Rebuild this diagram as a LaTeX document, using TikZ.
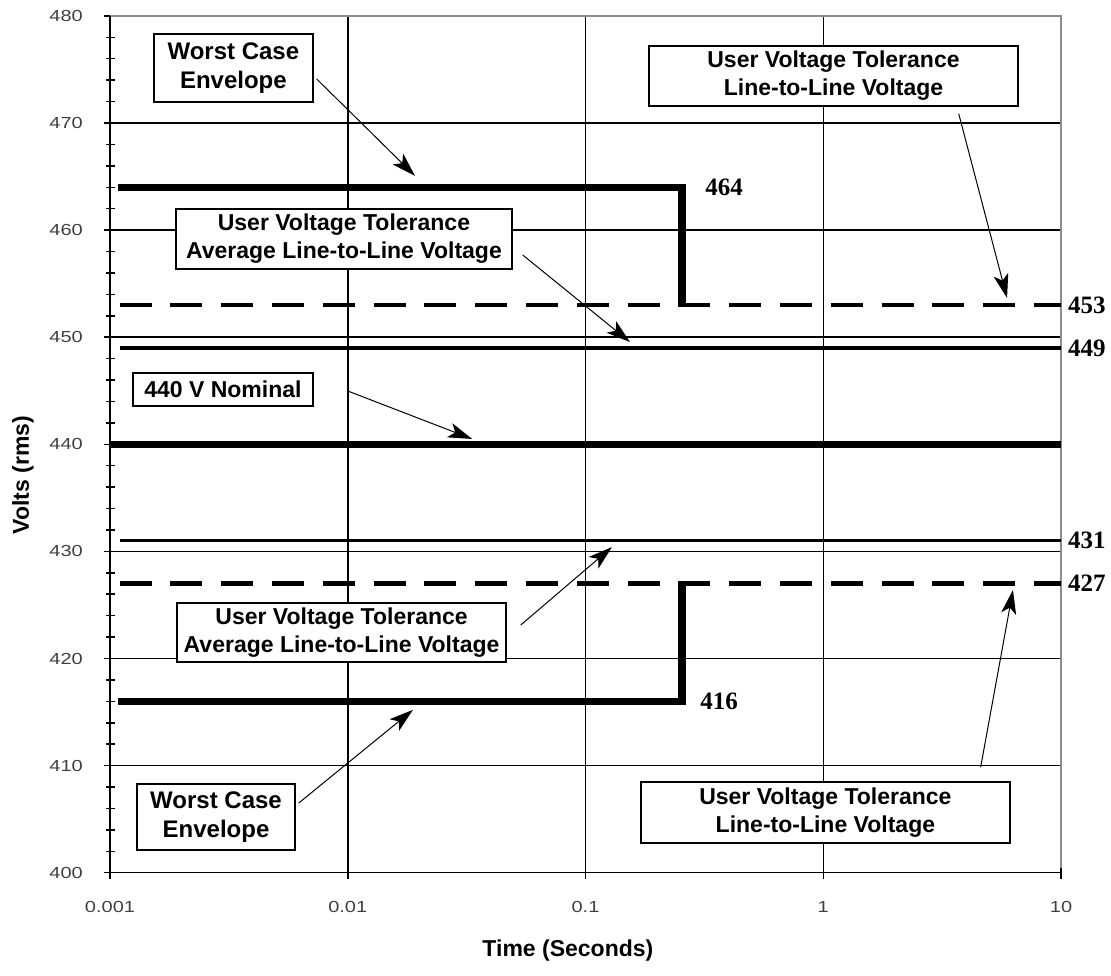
\documentclass[tikz,border=0pt]{standalone}
\usepackage{fontspec}
\usepackage{graphicx}
\setmainfont{Liberation Sans}
\newfontfamily\valfont{Liberation Serif}
\usetikzlibrary{arrows.meta}
\newcommand{\wide}[1]{\scalebox{1.25}[1]{#1}}
\tikzset{
	gl/.style={line width=1.5pt},
	fr/.style={line width=1.5pt,black!45},
	env/.style={line width=7.5pt},
	nom/.style={line width=7.5pt},
	tl/.style={line width=3.5pt},
	td/.style={line width=4.5pt,dash pattern=on 32pt off 18.8pt},
	bx/.style={draw,fill=white,line width=1.5pt,align=center,font=\fontsize{23}{28}\selectfont\bfseries},
	big/.style={font=\fontsize{24}{29}\selectfont\bfseries},
	ar/.style={line width=1pt,-{Stealth[length=24pt,width=15pt,inset=6pt]}},
	lab/.style={font=\fontsize{16}{18}\selectfont,text=black!75,inner sep=0pt},
	val/.style={font=\valfont\fontsize{25}{28}\selectfont\bfseries,inner sep=0pt,anchor=west},
	ttl/.style={font=\fontsize{23}{28}\selectfont\bfseries},
}

\begin{document}
\begin{tikzpicture}[x=237.75pt,y=10.71pt]
	\useasboundingbox (-0.46267,-9.5518) rectangle (4.2103,81.4846);

	\foreach \y in {10,20,...,70}
		\draw[gl] ([xshift=-6pt]0,\y) -- (4,\y);
	\foreach \x in {1,2,3}
		\draw[gl] ([yshift=-6pt]\x,0) -- (\x,80);
	\draw[fr] (0,80) -- (4,80) -- (4,0);
	\draw[gl] (0,80) -- (0,0) -- (4,0);
	\foreach \y in {0,80}
		\draw[gl] ([xshift=-6pt]0,\y) -- (0,\y);
	\foreach \x in {0,4}
		\draw[gl] ([yshift=-6pt]\x,0) -- (\x,0);
	\foreach \y in {2,4,...,78}
		\draw[gl] ([xshift=-4.5pt]0,\y) -- ([xshift=4.5pt]0,\y);
	\foreach \d in {0,...,3}
		\foreach \m [evaluate=\m as \xm using \d+log10(\m)] in {2,...,9}
			\draw[gl] ([yshift=-4.5pt]\xm,0) -- ([yshift=4.5pt]\xm,0);

	\foreach \y in {0,10,...,80}{
		\pgfmathtruncatemacro\v{400+\y}
		\node[lab,anchor=east] (ty\v) at ([xshift=-27pt]0,\y) {\wide{\v}};
	}
	\foreach \x/\t in {0/0.001,1/0.01,2/0.1,3/1,4/10}
		\node[lab] (tx\x) at ([yshift=-34pt]\x,0) {\wide{\t}};
	\node[ttl,rotate=90] (ylab) at (-0.366,37.13) {Volts (rms)};
	\node[ttl] (xlab) at (1.926,-7.255) {Time (Seconds)};

	\draw[td] (0.04,53) -- (4,53);
	\draw[tl] (0.04,49) -- (4,49);
	\draw[nom] (0,40) -- (4,40);
	\draw[tl] (0.04,31) -- (4,31);
	\draw[td] (0.04,27) -- (4,27);
	\draw[env] (0.034,64) -- (2.406,64) -- (2.406,53);
	\draw[env] (0.034,16) -- (2.406,16) -- (2.406,27);

	\node[val] (v453) at (4.029,53) {453};
	\node[val] (v449) at (4.029,49) {449};
	\node[val] (v431) at (4.029,31) {431};
	\node[val] (v427) at (4.029,27) {427};
	\node[val] (v464) at (2.503,64) {464};
	\node[val] (v416) at (2.482,16) {416};

	\node[bx,big,minimum width=159pt,minimum height=68pt] (wcTop) at (0.519,75.14) {Worst Case\\Envelope};
	\node[bx,minimum width=369pt,minimum height=60pt] (llTop) at (3.043,74.39) {User Voltage Tolerance\\Line-to-Line Voltage};
	\node[bx,minimum width=336pt,minimum height=60pt] (avgTop) at (0.984,59.17) {User Voltage Tolerance\\Average Line-to-Line Voltage};
	\node[bx,minimum width=180pt,minimum height=33pt] (nomBox) at (0.475,45.12) {440 V Nominal};
	\node[bx,minimum width=329pt,minimum height=59pt] (avgBot) at (0.974,22.43) {User Voltage Tolerance\\Average Line-to-Line Voltage};
	\node[bx,big,minimum width=158pt,minimum height=66pt] (wcBot) at (0.446,5.20) {Worst Case\\Envelope};
	\node[bx,minimum width=369pt,minimum height=61pt] (llBot) at (3.009,5.62) {User Voltage Tolerance\\Line-to-Line Voltage};

	\coordinate (tipA) at (1.283,65.06);
	\coordinate (tipB) at (3.773,53.66);
	\coordinate (tipC) at (2.187,49.55);
	\coordinate (tipD) at (1.523,40.5);
	\coordinate (tipE) at (2.111,30.4);
	\coordinate (tipF) at (1.274,15.2);
	\coordinate (tipG) at (3.798,26.4);

	\draw[ar] ([xshift=3pt,yshift=-11pt]wcTop.east) -- (tipA);
	\draw[ar] ([xshift=-60pt,yshift=-7pt]llTop.south east) -- (tipB);
	\draw[ar] ([xshift=10pt,yshift=-16pt]avgTop.east) -- (tipC);
	\draw[ar] ([xshift=34pt,yshift=-1.5pt]nomBox.east) -- (tipD);
	\draw[ar] ([xshift=14pt,yshift=7.5pt]avgBot.east) -- (tipE);
	\draw[ar] ([xshift=3pt,yshift=14pt]wcBot.east) -- (tipF);
	\draw[ar] ([xshift=-30pt,yshift=14pt]llBot.north east) -- (tipG);
\end{tikzpicture}
\end{document}
